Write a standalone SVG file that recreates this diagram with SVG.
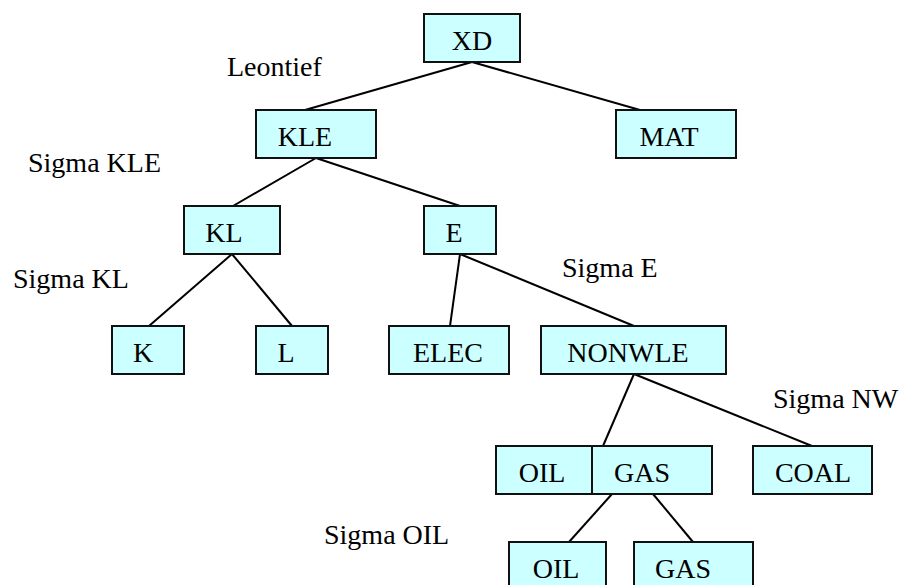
<svg xmlns="http://www.w3.org/2000/svg" width="900" height="585" viewBox="0 0 900 585">
<style>
.box{fill:#CCFFFF;stroke:#111;stroke-width:2}
.t{font-family:"Liberation Serif",serif;font-size:28px;fill:#000;text-anchor:middle}
.lbl{font-family:"Liberation Serif",serif;font-size:28px;fill:#000}
.c{stroke:#000;stroke-width:2;fill:none}
</style>
<rect width="900" height="585" fill="#fff"/>
<g id="connectors">
<line class="c" x1="472" y1="62" x2="305" y2="110"/>
<line class="c" x1="472" y1="62" x2="640" y2="110"/>
<line class="c" x1="316" y1="158" x2="233" y2="206"/>
<line class="c" x1="316" y1="158" x2="460" y2="206"/>
<line class="c" x1="232" y1="254" x2="149" y2="326"/>
<line class="c" x1="232" y1="254" x2="292" y2="326"/>
<line class="c" x1="460" y1="254" x2="450" y2="326"/>
<line class="c" x1="460" y1="254" x2="634" y2="326"/>
<line class="c" x1="634" y1="374" x2="603" y2="446"/>
<line class="c" x1="634" y1="374" x2="812" y2="446"/>
<line class="c" x1="612" y1="494" x2="569" y2="542"/>
<line class="c" x1="653" y1="494" x2="693" y2="542"/>
</g>
<g id="XD"><rect class="box" x="424" y="14" width="96" height="48"/><text class="t" x="472" y="50">XD</text></g>
<g id="KLE"><rect class="box" x="256" y="110" width="120" height="48"/><text class="t" x="305" y="146">KLE</text></g>
<g id="MAT"><rect class="box" x="616" y="110" width="120" height="48"/><text class="t" x="669" y="146">MAT</text></g>
<g id="KL"><rect class="box" x="184" y="206" width="96" height="48"/><text class="t" x="224" y="242">KL</text></g>
<g id="E"><rect class="box" x="424" y="206" width="72" height="48"/><text class="t" x="454" y="242">E</text></g>
<g id="K"><rect class="box" x="112" y="326" width="72" height="48"/><text class="t" x="143" y="362">K</text></g>
<g id="L"><rect class="box" x="256" y="326" width="72" height="48"/><text class="t" x="286" y="362">L</text></g>
<g id="ELEC"><rect class="box" x="389" y="326" width="120" height="48"/><text class="t" x="448" y="362">ELEC</text></g>
<g id="NONWLE"><rect class="box" x="541" y="326" width="185" height="48"/><text class="t" x="628" y="362">NONWLE</text></g>
<g id="OIL1"><rect class="box" x="496" y="446" width="96" height="48"/><text class="t" x="542" y="482">OIL</text></g>
<g id="GAS1"><rect class="box" x="592" y="446" width="120" height="48"/><text class="t" x="642" y="482">GAS</text></g>
<g id="COAL"><rect class="box" x="753" y="446" width="119" height="48"/><text class="t" x="813" y="482">COAL</text></g>
<g id="OIL2"><rect class="box" x="509" y="542" width="97" height="48"/><text class="t" x="556" y="578">OIL</text></g>
<g id="GAS2"><rect class="box" x="634" y="542" width="119" height="48"/><text class="t" x="683" y="578">GAS</text></g>
<g id="labels">
<text class="lbl" x="227" y="76">Leontief</text>
<text class="lbl" x="28" y="172">Sigma KLE</text>
<text class="lbl" x="13" y="288">Sigma KL</text>
<text class="lbl" x="562" y="277">Sigma E</text>
<text class="lbl" x="773" y="408">Sigma NW</text>
<text class="lbl" x="324" y="544">Sigma OIL</text>
</g>
</svg>
